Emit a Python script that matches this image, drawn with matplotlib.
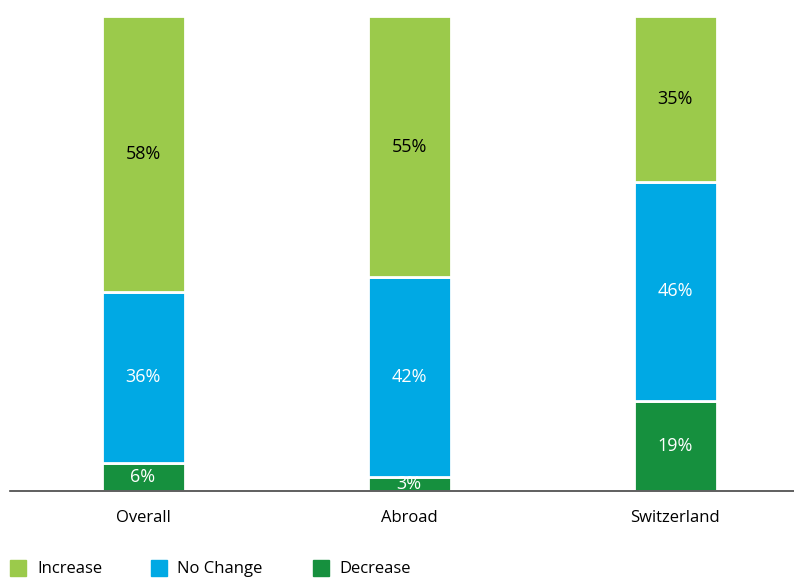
import matplotlib
matplotlib.use('Agg')
import matplotlib.pyplot as plt
from matplotlib.patches import Rectangle
import numpy as np

plt.rcParams['font.family'] = ['Open Sans', 'DejaVu Sans']

categories = ['Overall', 'Abroad', 'Switzerland']
decrease = [6, 3, 19]
no_change = [36, 42, 46]
increase = [58, 55, 35]

series = [
    ('Decrease', decrease, '#16903E', 'white'),
    ('No Change', no_change, '#00A9E4', 'white'),
    ('Increase', increase, '#9BCA4B', 'black'),
]

W, H = 794, 578
fig = plt.figure(figsize=(W / 100, H / 100), dpi=100)
ax = fig.add_axes([10 / W, 1 - 491 / H, 784 / W, 475 / H])

x = np.arange(len(categories))
bottom = np.zeros(len(categories))
colors = {}
for name, vals, col, tcol in series:
    vals = np.array(vals, dtype=float)
    ax.bar(x, vals, width=0.312, bottom=bottom, color=col,
           edgecolor='white', linewidth=2, label=name)
    colors[name] = col
    for xi, b, v in zip(x, bottom, vals):
        ax.text(xi, b + v / 2, '%d%%' % v, ha='center', va='center',
                fontsize=13, color=tcol, clip_on=True)
    bottom += vals

ax.set_xlim(-0.5, 2.447)
ax.set_ylim(0, 100)
for s in ['top', 'right', 'left']:
    ax.spines[s].set_visible(False)
ax.spines['bottom'].set_color('#444444')
ax.spines['bottom'].set_linewidth(1.2)
ax.set_yticks([])
ax.set_xticks(x)
ax.set_xticklabels(categories, fontsize=12)
ax.tick_params(axis='x', length=0, pad=14)

# legend drawn by hand (square markers, bottom row)
order = ['Increase', 'No Change', 'Decrease']
sq_x = [10, 151, 313]
txt_x = [37, 177, 339]
for name, sx, tx in zip(order, sq_x, txt_x):
    fig.patches.append(Rectangle((sx / W, 1 - 576 / H), 16 / W, 16 / H,
                                 transform=fig.transFigure, color=colors[name]))
    fig.text(tx / W, 1 - 569 / H, name, fontsize=12, va='center', ha='left')

fig.savefig('out.png', dpi=100)
